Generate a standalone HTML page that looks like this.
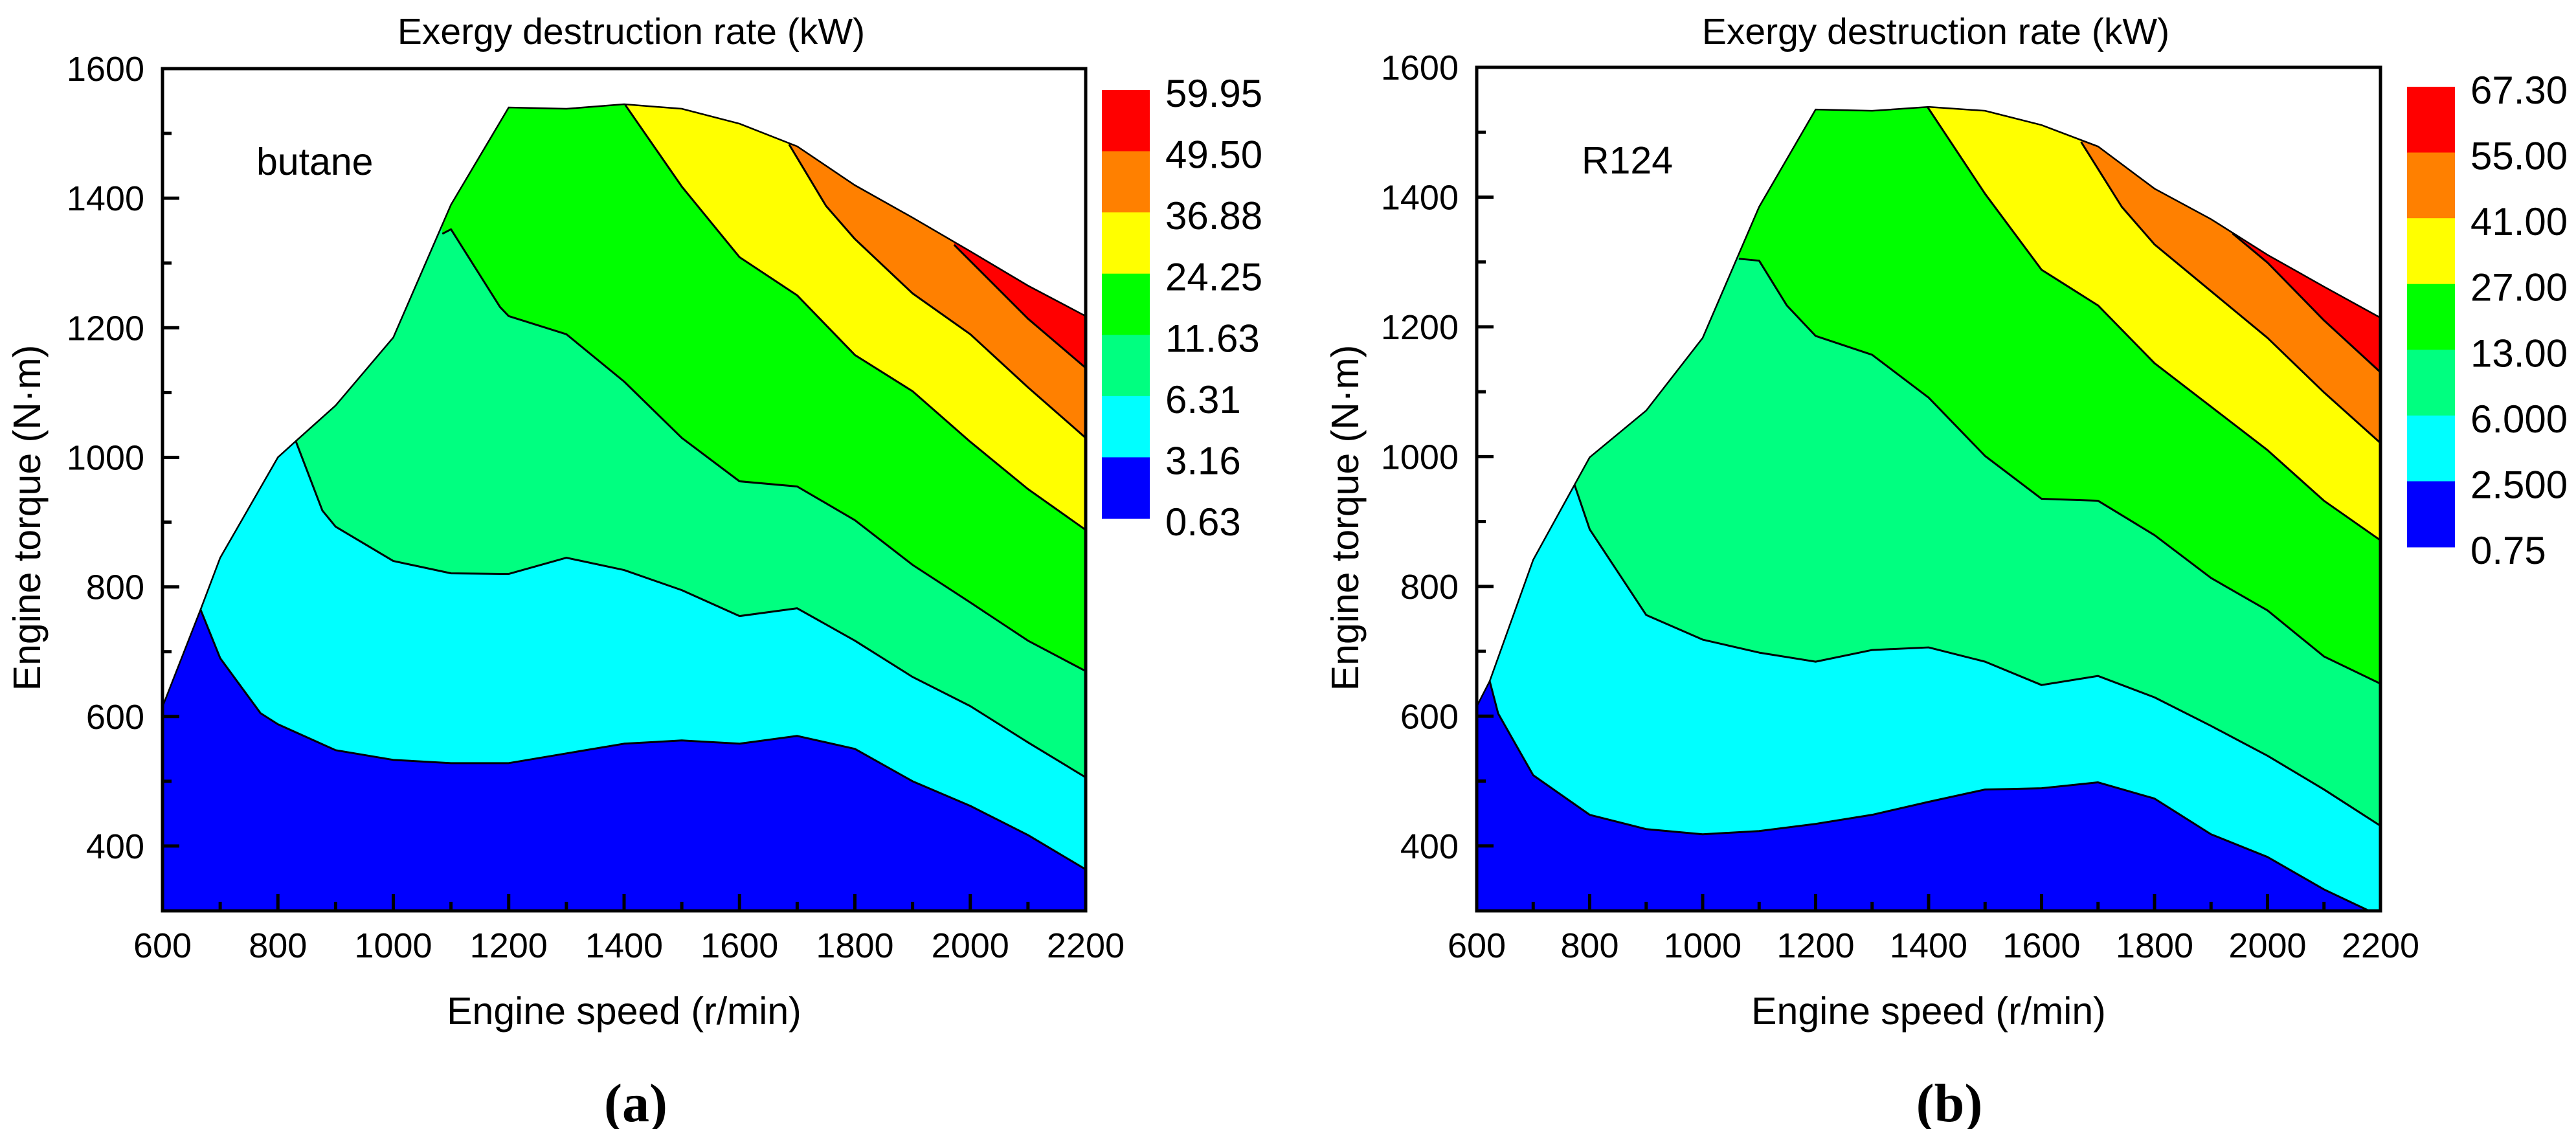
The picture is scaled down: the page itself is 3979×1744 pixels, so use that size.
<!DOCTYPE html>
<html><head><meta charset="utf-8">
<style>
html,body{margin:0;padding:0;background:#fff;}
svg{display:block;font-family:"Liberation Sans",Arial,sans-serif;}
</style></head>
<body>
<svg id="fig" width="3979" height="1744" viewBox="0 0 3979 1744" xmlns="http://www.w3.org/2000/svg">
<rect x="0" y="0" width="3979" height="1744" fill="#fff"/>
</svg>
<script>
// ---------- shared ----------
const colors = ["#0000ff","#00ffff","#00ff80","#00ff00","#ffff00","#ff8000","#ff0000"];
const xTicks = [600,800,1000,1200,1400,1600,1800,2000,2200];
const xMinor = [700,900,1100,1300,1500,1700,1900,2100];
const yTicks = [400,600,800,1000,1200,1400,1600];
const yMinor = [300,500,700,900,1100,1300,1500];

// ---------- panel (a) butane ----------
const envAx = [600,666,700,800,831,900,1000,1100,1200,1300,1400,1500,1600,1700,1800,1900,2000,2100,2200];
const envAy = [615,765,845,1000,1025,1080,1185,1390,1540,1538,1545,1538,1515,1480,1420,1370,1318,1265,1218];
const aB1x = [666,700,770,800,900,1000,1100,1200,1300,1400,1500,1600,1700,1800,1900,2000,2100,2200];
const aB1y = [765,690,605,588,548,533,528,528,543,558,563,558,570,550,500,462,417,364];
const aB2x = [831,877,900,1000,1100,1200,1300,1400,1500,1600,1700,1800,1900,2000,2100,2200];
const aB2y = [1025,918,893,840,821,820,845,826,795,755,767,717,661,616,560,506];
const aB3x = [1085,1100,1185,1200,1300,1400,1500,1600,1700,1800,1900,2000,2100,2200];
const aB3y = [1345,1352,1232,1218,1190,1117,1030,963,955,903,834,776,717,670];
const aB4x = [1402,1500,1600,1700,1800,1900,2000,2100,2200];
const aB4y = [1544,1418,1309,1250,1158,1102,1024,951,888];
const aB5x = [1686,1750,1800,1900,2000,2100,2200];
const aB5y = [1483,1388,1337,1253,1190,1108,1030];
const aB6x = [1972,2100,2200];
const aB6y = [1328,1214,1138];
const aLevels = ["59.95","49.50","36.88","24.25","11.63","6.31","3.16","0.63"];

// ---------- panel (b) R124 ----------
const envBx = [600,623,700,800,900,1000,1100,1200,1300,1400,1500,1600,1700,1800,1900,2000,2100,2200];
const envBy = [615,654,841,999,1071,1183,1385,1535,1533,1539,1533,1511,1478,1413,1366,1311,1262,1214];
const bB1x = [623,638,700,800,900,1000,1100,1200,1300,1400,1500,1600,1700,1800,1900,2000,2100,2180,2200];
const bB1y = [654,604,509,448,426,418,423,434,448,468,487,489,498,473,418,383,333,300,285];
const bB2x = [773,800,900,1000,1100,1200,1300,1400,1500,1600,1700,1800,1900,2000,2100,2200];
const bB2y = [957,888,756,718,698,684,702,706,684,648,662,629,585,539,487,431];
const bB3x = [1064,1100,1149,1200,1300,1400,1500,1600,1700,1800,1900,2000,2100,2200];
const bB3y = [1305,1302,1233,1186,1157,1091,1001,935,932,879,813,763,692,650];
const bB4x = [1398,1500,1600,1700,1800,1900,2000,2100,2200];
const bB4y = [1539,1405,1288,1233,1144,1077,1010,932,871];
const bB5x = [1670,1742,1800,1900,2000,2100,2200];
const bB5y = [1485,1385,1327,1255,1183,1099,1021];
const bB6x = [1938,2000,2100,2200];
const bB6y = [1344,1299,1210,1130];
const bLevels = ["67.30","55.00","41.00","27.00","13.00","6.000","2.500","0.75"];

const NS = "http://www.w3.org/2000/svg";
const svg = document.getElementById("fig");
function mk(tag, attrs, parent){
  const e = document.createElementNS(NS, tag);
  for (const k in attrs) e.setAttribute(k, attrs[k]);
  (parent||svg).appendChild(e);
  return e;
}

function drawPanel(cfg){
  const {L,R,T,B,id,envX,envY,bx,by,levels,label,labelX,labelY,cbX,cbT,cbB,titleX,ytitleX,letter,letterX} = cfg;
  const sx = v => L + (v-600)/1600*(R-L);
  const sy = v => B - (v-300)/1300*(B-T);
  const g = mk("g", {});
  
  

  // clip envelope
  const defs = mk("defs", {}, g);
  const cp = mk("clipPath", {id: id+"-clip"}, defs);
  let envPts = envX.map((x,i)=>sx(x)+","+sy(envY[i]));
  envPts.push(sx(2200)+","+sy(300), sx(600)+","+sy(300));
  mk("polygon", {points: envPts.join(" ")}, cp);

  const fills = mk("g", {"clip-path": "url(#"+id+"-clip)"}, g);
  const base = mk("rect", {x:L, y:T, width:R-L, height:B-T, fill: colors[0]}, fills);
  
  
  for (let k=0;k<bx.length;k++){
    const xs = bx[k], ys = by[k];
    let pts = xs.map((x,i)=>sx(x)+","+sy(ys[i]));
    pts.push(sx(2200)+","+sy(1700), sx(xs[0])+","+sy(1700));
    const p = mk("polygon", {points: pts.join(" "), fill: colors[k+1]}, fills);
    
    
  }
  for (let k=0;k<bx.length;k++){
    const xs = bx[k], ys = by[k];
    const ln = mk("polyline", {points: xs.map((x,i)=>sx(x)+","+sy(ys[i])).join(" "), fill:"none", stroke:"#000", "stroke-width":3, "stroke-linejoin":"round"}, fills);
    
    
  }
  const env = mk("polyline", {points: envX.map((x,i)=>sx(x)+","+sy(envY[i])).join(" "), fill:"none", stroke:"#000", "stroke-width":2.5}, g);
  
  

  // frame
  const fr = mk("rect", {x:L, y:T, width:R-L, height:B-T, fill:"none", stroke:"#000", "stroke-width":5}, g);
  
  

  // ticks
  xTicks.forEach(v=>{
    mk("line",{x1:sx(v),x2:sx(v),y1:B,y2:B-26,stroke:"#000","stroke-width":5},g);
    const t = mk("text",{x:sx(v),y:B+72,"text-anchor":"middle","font-size":54,fill:"#000"},g);
    t.textContent = v;
    
    
  });
  xMinor.forEach(v=>mk("line",{x1:sx(v),x2:sx(v),y1:B,y2:B-14,stroke:"#000","stroke-width":5},g));
  yTicks.forEach(v=>{
    mk("line",{x1:L,x2:L+26,y1:sy(v),y2:sy(v),stroke:"#000","stroke-width":5},g);
    const t = mk("text",{x:L-28,y:sy(v)+19,"text-anchor":"end","font-size":54,fill:"#000"},g);
    t.textContent = v;
    
    
  });
  yMinor.forEach(v=>mk("line",{x1:L,x2:L+14,y1:sy(v),y2:sy(v),stroke:"#000","stroke-width":5},g));

  // titles
  const tt = mk("text",{x:titleX,y:68,"text-anchor":"middle","font-size":57,fill:"#000"},g);
  tt.textContent = "Exergy destruction rate (kW)";
  
  
  const xt = mk("text",{x:(L+R)/2,y:1582,"text-anchor":"middle","font-size":59,fill:"#000"},g);
  xt.textContent = "Engine speed (r/min)";
  
  
  const yt = mk("text",{x:ytitleX,y:800,"text-anchor":"middle","font-size":59,fill:"#000",transform:"rotate(-90 "+ytitleX+" 800)"},g);
  yt.textContent = "Engine torque (N\u00b7m)";
  
  
  const lb = mk("text",{x:labelX,y:labelY,"font-size":59,fill:"#000"},g);
  lb.textContent = label;
  
  
  const lt = mk("text",{x:letterX,y:1732,"text-anchor":"middle","font-size":84,"font-weight":"bold",fill:"#000","font-family":"Liberation Serif, serif"},g);
  lt.textContent = letter;
  
  

  // colorbar
  const n = colors.length;
  const h = (cbB-cbT)/n;
  for (let i=0;i<n;i++){
    const r = mk("rect",{x:cbX,y:cbT+i*h,width:74,height:h+0.5,fill:colors[n-1-i]},g);
    
    
  }
  levels.forEach((s,i)=>{
    const t = mk("text",{x:cbX+98,y:cbT+i*h+26,"font-size":60,fill:"#000"},g);
    t.textContent = s;
    
    
  });
}

drawPanel({id:"panel-a",L:251,R:1677,T:106,B:1407,envX:envAx,envY:envAy,
  bx:[aB1x,aB2x,aB3x,aB4x,aB5x,aB6x], by:[aB1y,aB2y,aB3y,aB4y,aB5y,aB6y],
  levels:aLevels,label:"butane",labelX:396,labelY:270,cbX:1702,cbT:139,cbB:801,
  titleX:975,ytitleX:62,letter:"(a)",letterX:982});
drawPanel({id:"panel-b",L:2281,R:3677,T:104,B:1407,envX:envBx,envY:envBy,
  bx:[bB1x,bB2x,bB3x,bB4x,bB5x,bB6x], by:[bB1y,bB2y,bB3y,bB4y,bB5y,bB6y],
  levels:bLevels,label:"R124",labelX:2443,labelY:268,cbX:3718,cbT:134,cbB:845,
  titleX:2990,ytitleX:2098,letter:"(b)",letterX:3011});
</script>
</body></html>
